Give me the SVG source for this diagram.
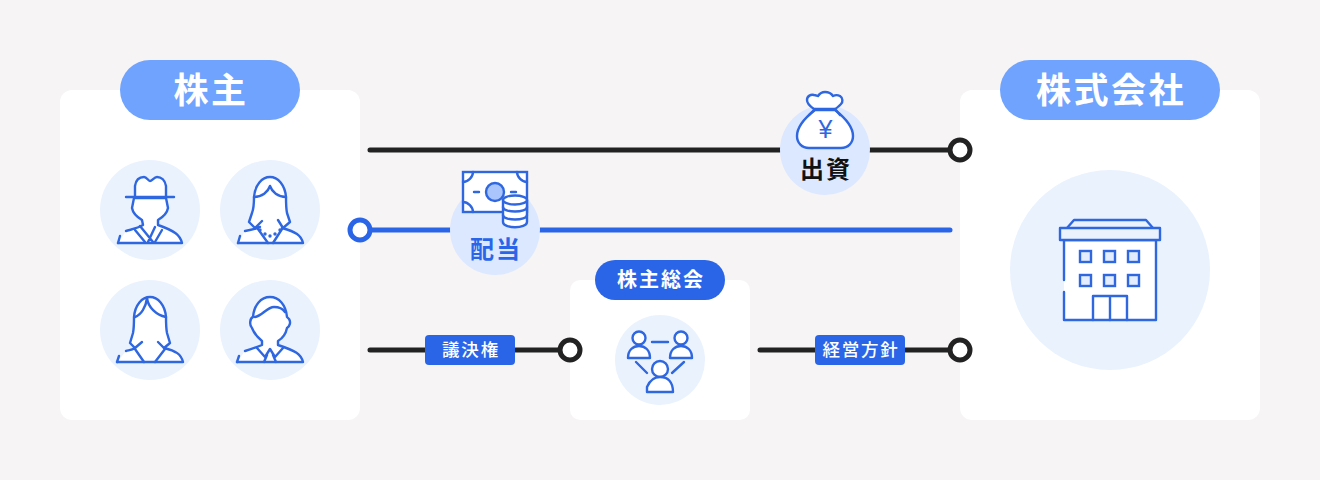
<svg xmlns="http://www.w3.org/2000/svg" width="1320" height="480" viewBox="0 0 1320 480">
<style>
.panel{fill:#fff}
.disc{fill:#eaf2fe}
.disc2{fill:#dce8ff}
.ic{fill:#fff;stroke:#2e67e0;stroke-width:2.4;stroke-linecap:round;stroke-linejoin:round}
.ln{fill:none;stroke:#2e67e0;stroke-width:2.4;stroke-linecap:round;stroke-linejoin:round}
.dk{fill:none;stroke:#222;stroke-width:5;stroke-linecap:round}
.bl{fill:none;stroke:#2a65e8;stroke-width:5;stroke-linecap:round}
.rk{fill:#fff;stroke:#222;stroke-width:5}
.rb{fill:#fff;stroke:#2a65e8;stroke-width:5}
.t{font-family:"Noto Sans CJK JP","Noto Sans CJK SC",sans-serif;font-weight:700;text-anchor:middle}
.lg{font-size:35px;letter-spacing:2.5px;fill:#fff}
.md{font-size:24px;letter-spacing:2px}
.sm{font-size:20px;letter-spacing:2px;fill:#fff}
.xs{font-size:17.5px;letter-spacing:1.8px;fill:#fff;font-weight:500}
</style>
<rect width="1320" height="480" fill="#f6f4f5"/>

<g id="shareholders">
<rect class="panel" x="60" y="90" width="300" height="330" rx="12"/>
<rect x="120" y="60" width="180" height="60" rx="30" fill="#6fa3fd"/>
<text class="t lg" x="211" y="103">株主</text>
</g>
<g id="person-hat">
<circle class="disc" cx="150" cy="210" r="50"/>
<path class="ic" d="M118 243 H182 C180 235 175 231 158 225 V220 C163 217 167 214 168 208 L166 198 H134 L132 208 C133 214 137 217 142 220 L143 225 C138 228 133 229 126 231"/>
<path class="ln" d="M118 243 L120 236 M135 230 L145 242 M140 226 L153 242 M155 227 L148 242 M162 230 L155 242"/>
<path class="ic" d="M135 197 V186 C136 179 140 177 144 177 C147 177 148 181 150 181 C152 181 154 177 157 177 C161 177 165 180 166 186 V197"/>
<path class="ln" d="M126 197 H174"/>
</g>
<g id="person-necklace">
<circle class="disc" cx="270" cy="210" r="50"/>
<path class="ic" d="M238 243 H303 C301 235 296 232 282 228 L283 228 L290 222 L287 213 C286 208 286 203 286 197 C285 185 278 177 270 177 C262 177 255 185 254 197 C254 203 254 208 252 213 L249 222 L255 228 L260 227 C256 229 252 230 245 231"/>
<path class="ln" d="M238 243 L240 236 M254 197 C262 197 268 192 270 186 C272 192 278 197 286 197 M258 229 L268 243 M282 229 L273 243 M255 228 L262 221 M283 228 L278 220"/>
<g fill="#2e67e0"><circle cx="260" cy="230" r="1.7"/><circle cx="265" cy="234" r="1.7"/><circle cx="270" cy="236" r="1.7"/><circle cx="275" cy="234" r="1.7"/><circle cx="280" cy="230" r="1.7"/></g>
</g>
<g id="person-long-hair">
<circle class="disc" cx="150" cy="330" r="50"/>
<path class="ic" d="M117 362 H183 C181 354 176 351 164 348 L170 343 L167 333 C166 328 166 322 166 317 C165 305 158 297 150 297 C142 297 135 305 134 317 C134 322 134 328 133 333 L130 343 L135 348 C132 350 130 350 126 351"/>
<path class="ln" d="M117 362 L119 356 M135 317 C141 315 146 307 147 298 M147 298 C148 307 156 315 166 317 M135 349 L144 362 M165 349 L155 362 M135 348 L142 342 M164 348 L158 342"/>
</g>
<g id="person-tie">
<circle class="disc" cx="270" cy="330" r="50"/>
<path class="ic" d="M237 362 H303 C301 354 296 351 278 345 V341 C283 338 286 333 287 328 C290 326 291 322 289 319 L287 317 C286 305 279 297 270 297 C261 297 254 305 253 317 C250 318 249 325 252 328 C254 333 258 338 262 341 V345 C257 347 252 349 245 351"/>
<path class="ln" d="M237 362 L239 356 M255 317 C262 316 267 307 274 307 C279 307 283 309 285 312 M257 348 L265 357 L270 349 L275 357 L283 348 M267 355 L264 362 M273 355 L276 362"/>
</g>
<g id="meeting">
<rect class="panel" x="570" y="280" width="180" height="140" rx="10"/>
<rect x="595" y="260" width="130" height="40" rx="20" fill="#2a65e8"/>
<text class="t sm" x="661" y="287">株主総会</text>
<circle class="disc" cx="660" cy="360" r="45"/>
<circle class="ic" cx="639" cy="338" r="6.5"/>
<path class="ic" d="M628 358 C628 350 633 346 639 346 C645 346 650 350 650 358 Z"/>
<circle class="ic" cx="681" cy="338" r="6.5"/>
<path class="ic" d="M670 358 C670 350 675 346 681 346 C687 346 692 350 692 358 Z"/>
<path class="ln" d="M652 342 H668 M636 362 L647 373 M684 362 L672 373"/>
<circle class="ic" cx="660" cy="369" r="8"/>
<path class="ic" d="M647 392 V387 C650 380 654 377 660 377 C668 377 673 382 673 392 Z"/>
</g>
<g id="company">
<rect class="panel" x="960" y="90" width="300" height="330" rx="12"/>
<rect x="1000" y="60" width="220" height="60" rx="30" fill="#6fa3fd"/>
<text class="t lg" x="1111" y="103">株式会社</text>
<circle class="disc" cx="1110" cy="270" r="100"/>
<rect x="1064" y="240" width="92" height="80" fill="#fff"/>
<path class="ln" d="M1064 280 V240 H1156 V320 H1064 V292"/>
<path class="ln" d="M1067 228 L1074 220 H1146 L1153 228"/>
<rect class="ic" x="1060" y="228" width="100" height="12" style="fill:#eaf2fe"/>
<g fill="#e3edfd" stroke="#2e67e0" stroke-width="2.4">
<rect x="1080" y="251" width="11" height="11"/><rect x="1104" y="251" width="11" height="11"/><rect x="1128" y="251" width="11" height="11"/>
<rect x="1080" y="275" width="11" height="11"/><rect x="1104" y="275" width="11" height="11"/><rect x="1128" y="275" width="11" height="11"/>
</g>
<path class="ln" d="M1093 320 V296 H1127 V320 M1110 296 V320"/>
</g>

<g id="connectors">
<path class="dk" d="M370 150 H780 M870 150 H950 M370 350 H425 M515 350 H560 M760 350 H815 M905 350 H950"/>
<path class="bl" d="M370 230 H450 M540 230 H950"/>
<circle class="rk" cx="960" cy="150" r="10"/>
<circle class="rb" cx="360" cy="230" r="10"/>
<circle class="rk" cx="570" cy="350" r="10"/>
<circle class="rk" cx="960" cy="350" r="10"/>
</g>

<g id="investment">
<circle class="disc2" cx="825" cy="150" r="45"/>
<path class="ic" d="M814 109 C811 107 807 104 807 100 C807 96 811 94 814 95 C816 95 817 96 818 96 C820 93 823 92 825 92 C828 92 831 93 833 96 C835 95 838 95 840 96 C843 98 843 102 841 104 C839 106 837 108 835 109 Z"/>
<path class="ic" d="M815 110 H835 C844 117 853 126 853 136 C853 143 848 148 841 148 H809 C802 148 797 143 797 136 C797 126 806 117 815 110 Z"/>
<path class="ln" d="M809 115 L815 109 M840 115 L835 109"/>
<text x="825.500" y="138" font-family="Liberation Sans,sans-serif" font-size="25" text-anchor="middle" fill="#2e67e0">¥</text>
<text class="t md" x="826" y="178" fill="#111">出資</text>
</g>
<g id="dividend">
<circle class="disc2" cx="495" cy="230" r="45"/>
<rect class="ic" style="stroke-linejoin:miter" x="463" y="172" width="64" height="40"/>
<path class="ln" d="M463 182 C468 182 473 177 473 172 M517 172 C517 177 522 182 527 182 M463 202 C468 202 473 207 473 212 M474 192 H479 M511 192 H516"/>
<circle cx="495" cy="192" r="9" fill="#a9c5fb" stroke="#2e67e0" stroke-width="2.4"/>
<path class="ic" d="M503 200 V222 C503 229 527 229 527 222 V200 Z"/>
<ellipse class="ic" cx="515" cy="200" rx="12" ry="4.500"/>
<path class="ln" d="M503 207 C503 213 527 213 527 207 M503 215 C503 221 527 221 527 215"/>
<text class="t md" x="496" y="258" fill="#2a65e8">配当</text>
</g>
<g id="vote-label">
<rect x="425" y="335" width="90" height="30" rx="4" fill="#2a65e8"/>
<text class="t xs" x="471" y="356">議決権</text>
</g>
<g id="policy-label">
<rect x="815" y="335" width="90" height="30" rx="4" fill="#2a65e8"/>
<text class="t xs" x="861" y="356">経営方針</text>
</g>
</svg>
